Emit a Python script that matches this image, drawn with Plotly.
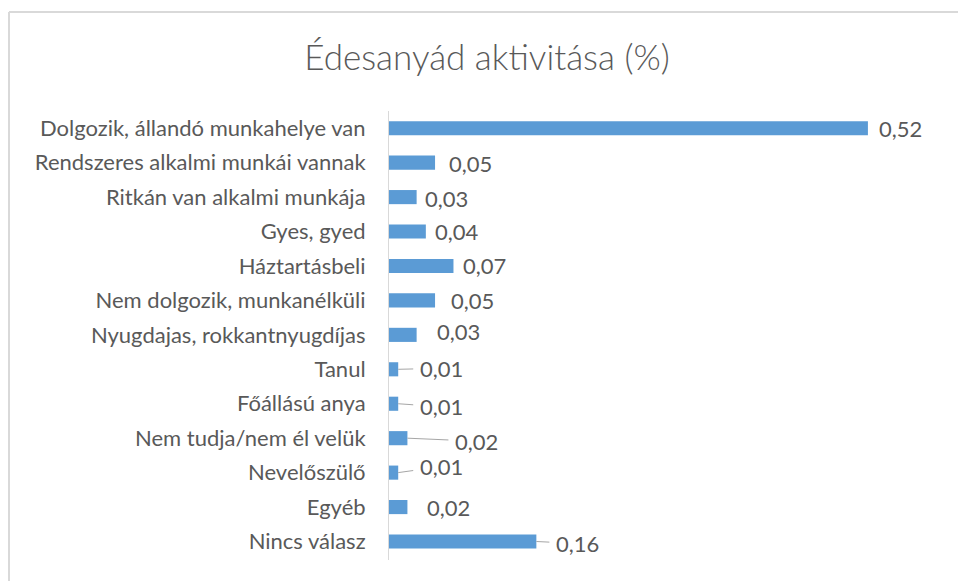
import plotly.graph_objects as go

categories = [
    "Dolgozik, állandó munkahelye van",
    "Rendszeres alkalmi munkái vannak",
    "Ritkán van alkalmi munkája",
    "Gyes, gyed",
    "Háztartásbeli",
    "Nem dolgozik, munkanélküli",
    "Nyugdajas, rokkantnyugdíjas",
    "Tanul",
    "Főállású anya",
    "Nem tudja/nem él velük",
    "Nevelőszülő",
    "Egyéb",
    "Nincs válasz",
]
values = [0.52, 0.05, 0.03, 0.04, 0.07, 0.05, 0.03, 0.01, 0.01, 0.02, 0.01, 0.02, 0.16]
value_labels = [f"{v:.2f}".replace(".", ",") for v in values]

# label placement styling (pixel offsets): (xshift, yshift, leader line)
label_style = [
    (9, 0, False), (12, -1, False), (6, -1, False), (7, 0, False),
    (8, 0, False), (14, 0, False), (18, 3, False), (22, 1, True),
    (22, -3, True), (48, -3, True), (22, 6, True), (18, 0, False),
    (20, -2, True),
]

W, H = 958, 581
ML, MR, MT, MB = 389, 16, 111, 21
PW, PH = W - ML - MR, H - MT - MB

GRAY = "#595959"
FONT = "Lato"
FS = 22

fig = go.Figure(go.Bar(
    x=values, y=categories, orientation="h",
    marker=dict(color="#5B9BD5", line=dict(width=0)),
    hoverinfo="skip",
))

anns = []
for cat, v, lab, (dx, dy, leader) in zip(categories, values, value_labels, label_style):
    if leader:
        anns.append(dict(
            x=v, y=cat, xref="x", yref="y", text=lab, showarrow=True,
            arrowhead=0, arrowwidth=1, arrowcolor="#A6A6A6",
            ax=dx + 21, ay=-dy, standoff=0, startstandoff=0, borderpad=6,
            font=dict(family=FONT, size=FS, color=GRAY),
        ))
    else:
        anns.append(dict(
            x=v, y=cat, xref="x", yref="y", text=lab, showarrow=False,
            xanchor="left", xshift=dx, yshift=dy,
            font=dict(family=FONT, size=FS, color=GRAY),
        ))

def px_x(p):
    return (p - ML) / PW

def px_y(p):
    return 1 - (p - MT) / PH

shapes = [
    dict(type="line", xref="paper", yref="paper", x0=px_x(9), x1=px_x(965),
         y0=px_y(12), y1=px_y(12), line=dict(color="#D9D9D9", width=2)),
    dict(type="line", xref="paper", yref="paper", x0=px_x(9), x1=px_x(9),
         y0=px_y(12), y1=px_y(590), line=dict(color="#D9D9D9", width=2)),
]

fig.update_layout(
    width=W, height=H,
    margin=dict(l=ML, r=MR, t=MT, b=MB),
    paper_bgcolor="white", plot_bgcolor="white",
    bargap=0.59,
    showlegend=False,
    title=dict(text="Édesanyád aktivitása (%)", x=487 / W, xanchor="center",
               y=1 - 58 / H, yanchor="middle",
               font=dict(family=FONT, size=35, color=GRAY, weight=300)),
    xaxis=dict(range=[0, PW / 921], visible=False, fixedrange=True),
    yaxis=dict(autorange="reversed", showline=True, linecolor="#D9D9D9", linewidth=1,
               ticks="", ticklabelstandoff=18, showgrid=False, fixedrange=True,
               tickfont=dict(family=FONT, size=FS, color=GRAY)),
    annotations=anns,
    shapes=shapes,
)

fig.write_html(
    "out.html",
    config={"displayModeBar": False},
    post_script="document.body.style.margin='0';document.body.style.overflow='hidden';",
)
